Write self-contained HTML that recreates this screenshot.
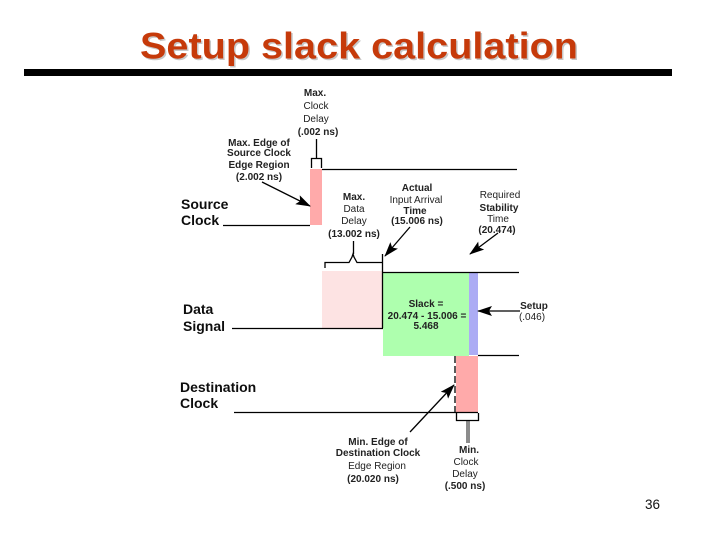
<!DOCTYPE html>
<html>
<head>
<meta charset="utf-8">
<style>
html,body{margin:0;padding:0;background:#fff}
svg{display:block}
text{font-family:"Liberation Sans",sans-serif;fill:#111}
.s{font-size:10px;text-anchor:middle;font-weight:bold;fill:#222}
.r{font-size:10px;text-anchor:middle;fill:#222}
.l{font-size:14px;font-weight:bold;fill:#111}
</style>
</head>
<body>
<svg width="720" height="540" viewBox="0 0 720 540" xmlns="http://www.w3.org/2000/svg">
<defs>
<marker id="a" markerWidth="15" markerHeight="10" refX="14" refY="5" orient="auto" markerUnits="userSpaceOnUse"><path d="M0 0L15 5L0 10L3 5Z" fill="#000"/></marker>
<filter id="b" x="0" y="0" width="100%" height="100%"><feGaussianBlur stdDeviation="0.35"/></filter>
</defs>
<rect width="720" height="540" fill="#fff"/>
<text x="141.500" y="60" font-size="37" font-weight="bold" textLength="438" lengthAdjust="spacingAndGlyphs" style="fill:#c8c8c8">Setup slack calculation</text>
<text x="140" y="58.500" font-size="37" font-weight="bold" textLength="438" lengthAdjust="spacingAndGlyphs" style="fill:#c63a0a">Setup slack calculation</text>
<rect x="24" y="69" width="648" height="7" fill="#000"/>

<g filter="url(#b)">
<rect x="310" y="169" width="12" height="56" fill="#ffaaaa"/>
<rect x="322" y="271" width="61" height="57" fill="#fde3e3"/>
<rect x="383" y="272" width="86" height="84" fill="#aeffae"/>
<rect x="469" y="272" width="9" height="83" fill="#acacf4"/>
<rect x="456" y="356" width="22" height="56" fill="#ffaaaa"/>

<g stroke="#000" stroke-width="1.300" fill="none">
<path d="M223 225.500H310"/>
<path d="M322 169.500H517"/>
<path d="M311.500 168V158.500H321.500V168"/>
<path d="M316.500 158V139"/>
<path d="M325 268V262.500H349L352 257L353 254L354 257L357 262.500H382.500"/>
<path d="M353.500 254V241"/>
<path d="M382.500 254V328"/>
<path d="M383 272.500H519"/>
<path d="M232 328.500H383"/>
<path d="M478 355.500H519"/>
<path d="M234 412.500H478"/>
<path d="M455 356V412" stroke-dasharray="7 3"/>
<path d="M456.500 413V420.500H478.500V413"/>
<path d="M467 421V443M469 421V443" stroke-width="0.900"/>
<path d="M262 182L310 206" marker-end="url(#a)"/>
<path d="M410 227L385 256" marker-end="url(#a)"/>
<path d="M498 233L470 254" marker-end="url(#a)"/>
<path d="M520 311H478" marker-end="url(#a)"/>
<path d="M410 432L454 385" marker-end="url(#a)"/>
</g>

<text class="l" x="181" y="209">Source</text>
<text class="l" x="181" y="225">Clock</text>
<text class="l" x="183" y="314">Data</text>
<text class="l" x="183" y="331">Signal</text>
<text class="l" x="180" y="392">Destination</text>
<text class="l" x="180" y="408">Clock</text>

<text class="s" x="315" y="96">Max.</text>
<text class="r" x="316" y="109">Clock</text>
<text class="r" x="316" y="122">Delay</text>
<text class="s" x="318" y="135">(.002 ns)</text>

<text class="s" x="259" y="146">Max. Edge of</text>
<text class="s" x="259" y="156">Source Clock</text>
<text class="s" x="259" y="168">Edge Region</text>
<text class="s" x="259" y="180">(2.002 ns)</text>

<text class="s" x="354" y="200">Max.</text>
<text class="r" x="354" y="212">Data</text>
<text class="r" x="354" y="224">Delay</text>
<text class="s" x="354" y="237">(13.002 ns)</text>

<text class="s" x="417" y="191">Actual</text>
<text class="r" x="416" y="203">Input Arrival</text>
<text class="s" x="415" y="214">Time</text>
<text class="s" x="417" y="224">(15.006 ns)</text>

<text class="r" x="500" y="198">Required</text>
<text class="s" x="499" y="211">Stability</text>
<text class="r" x="498" y="222">Time</text>
<text class="s" x="497" y="233">(20.474)</text>

<text class="s" x="426" y="307">Slack =</text>
<text class="s" x="427" y="319">20.474 - 15.006 =</text>
<text class="s" x="426" y="329">5.468</text>

<text class="s" x="534" y="309">Setup</text>
<text class="r" x="532" y="320">(.046)</text>

<text class="s" x="378" y="445">Min. Edge of</text>
<text class="s" x="378" y="456">Destination Clock</text>
<text class="r" x="377" y="469">Edge Region</text>
<text class="s" x="373" y="482">(20.020 ns)</text>

<text class="s" x="469" y="453">Min.</text>
<text class="r" x="466" y="465">Clock</text>
<text class="r" x="465" y="477">Delay</text>
<text class="s" x="465" y="489">(.500 ns)</text>
</g>

<text x="645" y="509" font-size="13.500" style="fill:#111">36</text>
</svg>
</body>
</html>
